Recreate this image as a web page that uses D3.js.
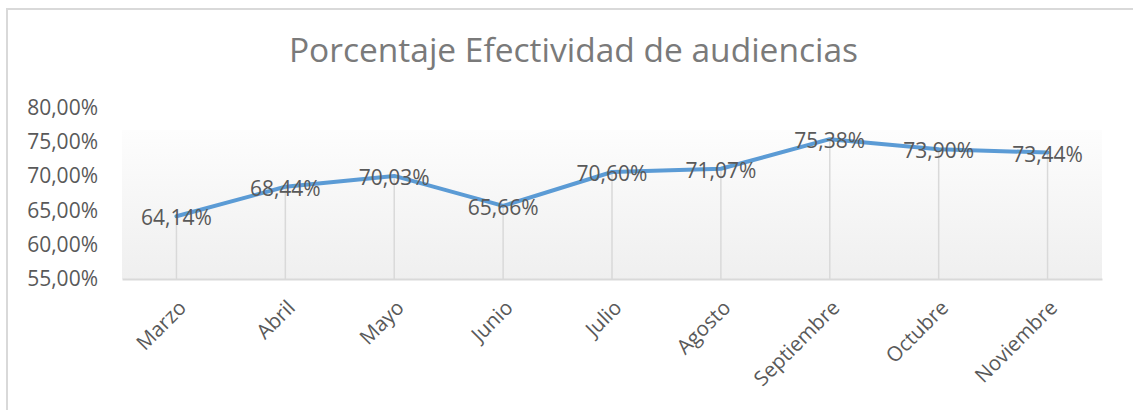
<!DOCTYPE html>
<html>
<head>
<meta charset="utf-8">
<script src="https://cdn.jsdelivr.net/npm/d3@7"></script>
<style>
  body { margin: 0; background: #fff; }
  svg { display: block; }
</style>
</head>
<body>
<div class="line-chart"></div>
<script>
// Porcentaje efectividad de audiencias

var months = ["Marzo", "Abril", "Mayo", "Junio", "Julio", "Agosto", "Septiembre", "Octubre", "Noviembre"];
var efectividad = [64.14, 68.44, 70.03, 65.66, 70.60, 71.07, 75.38, 73.90, 73.44];
var y_ticks = [55, 60, 65, 70, 75, 80];

var width = 1133, height = 410;
var margin = {top: 107.5, right: 31, bottom: 131, left: 122};

var fmt = function(v) { return v.toFixed(2).replace(".", ",") + "%"; };

var svg = d3.select('.line-chart')
    .append('svg')
        .attr('width', width)
        .attr('height', height);

// chart border
svg.append("rect")
    .attr("x", 7).attr("y", 9)
    .attr("width", 1140).attr("height", 420)
    .attr("fill", "none")
    .attr("stroke", "#d9d9d9")
    .attr("stroke-width", 2);

var x = d3.scaleBand()
    .domain(months)
    .range([margin.left, width - margin.right]);

var y = d3.scaleLinear()
    .domain([55, 80])
    .range([height - margin.bottom, margin.top]);

// plot background gradient
var grad = svg.append("defs").append("linearGradient")
    .attr("id", "bg").attr("x1", 0).attr("y1", 0).attr("x2", 0).attr("y2", 1);
grad.append("stop").attr("offset", "0%").attr("stop-color", "#fdfdfd");
grad.append("stop").attr("offset", "100%").attr("stop-color", "#efefef");

svg.append("rect")
    .attr("x", margin.left)
    .attr("y", 130)
    .attr("width", width - margin.right - margin.left)
    .attr("height", y(55) - 130)
    .attr("fill", "url(#bg)");

// title
svg.append("text")
    .attr("x", 573.5)
    .attr("y", 62)
    .attr("text-anchor", "middle")
    .style("font-family", "'Open Sans', sans-serif")
    .style("font-size", "33.5px")
    .style("fill", "#7a7a7a")
    .text("Porcentaje Efectividad de audiencias");

// y axis labels
var yAxis = svg.append("g")
    .attr("transform", "translate(" + 98 + ",0)")
    .call(d3.axisLeft(y).tickValues(y_ticks).tickSize(0).tickPadding(0)
        .tickFormat(fmt));
yAxis.select(".domain").remove();
yAxis.selectAll("text")
    .style("font-family", "'Open Sans', sans-serif")
    .style("font-size", "21px")
    .style("fill", "#595959");

// x axis
var xAxis = svg.append("g")
    .attr("transform", "translate(0," + y(55) + ")")
    .call(d3.axisBottom(x).tickSize(0).tickPadding(0));
xAxis.select(".domain")
    .attr("stroke", "#d9d9d9")
    .attr("stroke-width", 2);
xAxis.selectAll("text")
    .attr("text-anchor", "end")
    .attr("dy", 0)
    .attr("transform", "translate(11,30) rotate(-45)")
    .style("font-family", "'Open Sans', sans-serif")
    .style("font-size", "20.5px")
    .style("fill", "#595959");

var cx = function(d, i) { return x(months[i]) + x.bandwidth() / 2; };

// drop lines
svg.selectAll(".drop")
    .data(efectividad)
    .enter()
    .append("line")
        .attr("class", "drop")
        .attr("x1", cx).attr("x2", cx)
        .attr("y1", function(d) { return y(d); })
        .attr("y2", y(55))
        .attr("stroke", "#d9d9d9")
        .attr("stroke-width", 1.5);

// the line
var line = d3.line()
    .x(cx)
    .y(function(d) { return y(d); });

svg.append("path")
    .datum(efectividad)
    .attr("d", line)
    .attr("fill", "none")
    .attr("stroke", "#5b9bd5")
    .attr("stroke-width", 4)
    .attr("stroke-linejoin", "round")
    .attr("stroke-linecap", "round");

// data labels
svg.selectAll(".lbl")
    .data(efectividad)
    .enter()
    .append("text")
        .attr("class", "lbl")
        .attr("x", cx)
        .attr("y", function(d) { return y(d) + 1; })
        .attr("text-anchor", "middle")
        .attr("dominant-baseline", "central")
        .style("font-family", "'Open Sans', sans-serif")
        .style("font-size", "21px")
        .style("fill", "#595959")
        .text(fmt);
</script>
</body>
</html>
